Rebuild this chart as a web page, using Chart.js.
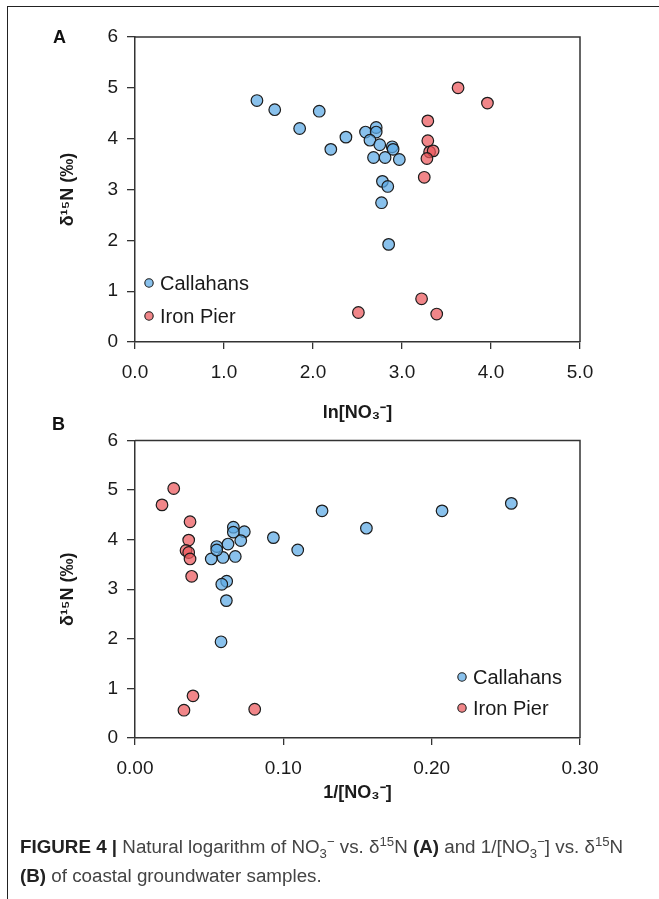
<!DOCTYPE html>
<html>
<head>
<meta charset="utf-8">
<script src="https://cdn.jsdelivr.net/npm/chart.js@4.4.1/dist/chart.umd.min.js"></script>
<style>
  html, body { margin:0; padding:0; background:#fff; }
  body { width:659px; height:899px; position:relative; overflow:hidden; font-family:"Liberation Sans", Arial, sans-serif; }
  #frame { position:absolute; left:7px; top:6px; width:660px; height:900px; border-top:1.5px solid #222; border-left:1.5px solid #222; }
  canvas { position:absolute; left:0; }
  #cA { top:0; }
  #cB { top:420px; }
  .plab { position:absolute; font-weight:bold; font-size:18px; color:#111; line-height:1; }
  #caption { position:absolute; left:20px; top:832px; width:636px; font-size:18.8px; line-height:29px; color:#444; white-space:nowrap; }
  #caption b { color:#222; }
  #caption sub, #caption sup { font-size:0.7em; line-height:0; }
</style>
</head>
<body>
<div id="frame"></div>
<canvas id="cA" width="659" height="430"></canvas>
<canvas id="cB" width="659" height="400"></canvas>
<div class="plab" style="left:53px;top:28px;">A</div>
<div class="plab" style="left:52px;top:415px;">B</div>
<div id="caption"><b>FIGURE 4 |</b> Natural logarithm of NO<sub>3</sub><sup>−</sup> vs. δ<sup>15</sup>N <b>(A)</b> and 1/[NO<sub>3</sub><sup>−</sup>] vs. δ<sup>15</sup>N<br><b>(B)</b> of coastal groundwater samples.</div>
<script>
// ---- Data ----
const seriesNames = ['Callahans', 'Iron Pier'];

// Panel A: x = ln[NO3-], y = d15N
const callahansLnX = [1.37, 1.57, 2.07, 1.85, 2.37, 2.20, 2.59, 2.71, 2.71, 2.64, 2.75, 2.89, 2.90, 2.68, 2.81, 2.97, 2.78, 2.84, 2.77, 2.85];
const callahansLnY = [4.75, 4.57, 4.54, 4.20, 4.03, 3.79, 4.13, 4.22, 4.13, 3.97, 3.88, 3.84, 3.79, 3.63, 3.63, 3.59, 3.16, 3.06, 2.74, 1.92];
const ironPierLnX = [3.63, 3.96, 3.29, 3.29, 3.31, 3.35, 3.28, 3.25, 3.22, 3.39, 2.51];
const ironPierLnY = [5.00, 4.70, 4.35, 3.96, 3.74, 3.76, 3.61, 3.24, 0.85, 0.55, 0.58];

// Panel B: x = 1/[NO3-], y = d15N
const callahansInvX = [0.2537, 0.207, 0.156, 0.1261, 0.1097, 0.0933, 0.0737, 0.0713, 0.0663, 0.0663, 0.0627, 0.0676, 0.0593, 0.0514, 0.0551, 0.0551, 0.0618, 0.0585, 0.0616, 0.0580];
const callahansInvY = [4.73, 4.58, 4.23, 4.58, 3.79, 4.04, 4.16, 3.98, 4.25, 4.15, 3.91, 3.66, 3.64, 3.61, 3.86, 3.79, 3.16, 3.10, 2.77, 1.94];
const ironPierInvX = [0.0182, 0.0261, 0.0371, 0.0362, 0.0344, 0.0362, 0.0371, 0.0382, 0.0391, 0.0330, 0.0807];
const ironPierInvY = [4.70, 5.03, 4.36, 3.99, 3.78, 3.74, 3.61, 3.26, 0.85, 0.56, 0.58];

// Tick labels
const yTickLabels = ['0', '1', '2', '3', '4', '5', '6'];
const xTickLabelsA = ['0.0', '1.0', '2.0', '3.0', '4.0', '5.0'];
const xTickLabelsB = ['0.00', '0.10', '0.20', '0.30'];

// ---- Styling ----
const FONT = '"Liberation Sans", Arial, sans-serif';
const blueFill = 'rgba(92,169,228,0.72)';
const redFill = 'rgba(236,88,91,0.72)';
const ptBorder = '#1c1c1c';
const axisColor = '#333';

function pts(xs, ys) { return xs.map((x, i) => ({ x: x, y: ys[i] })); }

const boxPlugin = {
  id: 'boxPlugin',
  afterDraw(chart) {
    const { ctx, chartArea: ca } = chart;
    ctx.save();
    ctx.strokeStyle = axisColor;
    ctx.lineWidth = 1.5;
    ctx.beginPath();
    ctx.moveTo(ca.left, ca.top);
    ctx.lineTo(ca.right, ca.top);
    ctx.lineTo(ca.right, ca.bottom);
    ctx.stroke();
    ctx.restore();
  }
};

const insideLegend = {
  id: 'insideLegend',
  afterDatasetsDraw(chart, args, opts) {
    const { ctx, chartArea: ca } = chart;
    ctx.save();
    ctx.font = '20px ' + FONT;
    ctx.textBaseline = 'middle';
    ctx.textAlign = 'left';
    chart.data.datasets.forEach((ds, i) => {
      const x = opts.fromRight ? ca.right - opts.dx : ca.left + opts.dx;
      const y = ca.bottom - opts.dy + i * opts.gap;
      ctx.beginPath();
      ctx.arc(x, y, 4.2, 0, Math.PI * 2);
      ctx.fillStyle = ds.backgroundColor;
      ctx.fill();
      ctx.lineWidth = 1.1;
      ctx.strokeStyle = ptBorder;
      ctx.stroke();
      ctx.fillStyle = '#1a1a1a';
      ctx.fillText(ds.label, x + 11, y + 1);
    });
    ctx.restore();
  }
};

function makeChart(id, cfg) {
  return new Chart(document.getElementById(id), {
    type: 'scatter',
    data: {
      datasets: [
        { label: seriesNames[0], data: cfg.blue, backgroundColor: blueFill, borderColor: ptBorder, borderWidth: 1.2, pointRadius: 5.8 },
        { label: seriesNames[1], data: cfg.red, backgroundColor: redFill, borderColor: ptBorder, borderWidth: 1.2, pointRadius: 5.8 }
      ]
    },
    options: {
      responsive: false,
      animation: false,
      devicePixelRatio: 1,
      layout: { padding: { left: 0, top: cfg.padTop, right: 79, bottom: 0 } },
      plugins: {
        legend: { display: false },
        tooltip: { enabled: false },
        insideLegend: cfg.legend
      },
      scales: {
        x: {
          type: 'linear', min: 0, max: cfg.xMax,
          afterBuildTicks: s => { s.ticks = cfg.xLabels.map((_, i) => ({ value: i * cfg.xStep })); },
          ticks: { callback: (v, i) => cfg.xLabels[i], font: { family: FONT, size: 19 }, color: '#1a1a1a', padding: 12, maxRotation: 0, autoSkip: false },
          grid: { display: true, drawOnChartArea: false, drawTicks: true, tickLength: 7, color: axisColor, lineWidth: 1.3 },
          border: { display: true, color: axisColor, width: 1.5 },
          title: { display: true, text: cfg.xTitle, font: { family: FONT, size: 18, weight: 'bold' }, color: '#1a1a1a', padding: { top: 0, bottom: cfg.xTitlePad } },
          afterFit: s => { s.height = cfg.xHeight; }
        },
        y: {
          type: 'linear', min: 0, max: 6,
          afterBuildTicks: s => { s.ticks = yTickLabels.map((_, i) => ({ value: i })); },
          ticks: { callback: (v, i) => yTickLabels[i], font: { family: FONT, size: 19 }, color: '#1a1a1a', padding: 9 },
          grid: { display: true, drawOnChartArea: false, drawTicks: true, tickLength: 8, color: axisColor, lineWidth: 1.3 },
          border: { display: true, color: axisColor, width: 1.5 },
          title: { display: true, text: 'δ¹⁵N (‰)', font: { family: FONT, size: 18, weight: 'bold' }, color: '#1a1a1a', padding: { top: 57, bottom: 0 } },
          afterFit: s => { s.width = 135; }
        }
      }
    },
    plugins: [boxPlugin, insideLegend]
  });
}

makeChart('cA', {
  blue: pts(callahansLnX, callahansLnY),
  red: pts(ironPierLnX, ironPierLnY),
  xMax: 5, xStep: 1, xLabels: xTickLabelsA,
  xTitle: 'ln[NO₃⁻]', xTitlePad: 6,
  padTop: 37, xHeight: 88,
  legend: { fromRight: false, dx: 14, dy: 59, gap: 33 }
});

makeChart('cB', {
  blue: pts(callahansInvX, callahansInvY),
  red: pts(ironPierInvX, ironPierInvY),
  xMax: 0.3, xStep: 0.1, xLabels: xTickLabelsB,
  xTitle: '1/[NO₃⁻]', xTitlePad: 16,
  padTop: 13, xHeight: 400 - 318,
  legend: { fromRight: true, dx: 118, dy: 61, gap: 31 }
});
</script>
</body>
</html>
